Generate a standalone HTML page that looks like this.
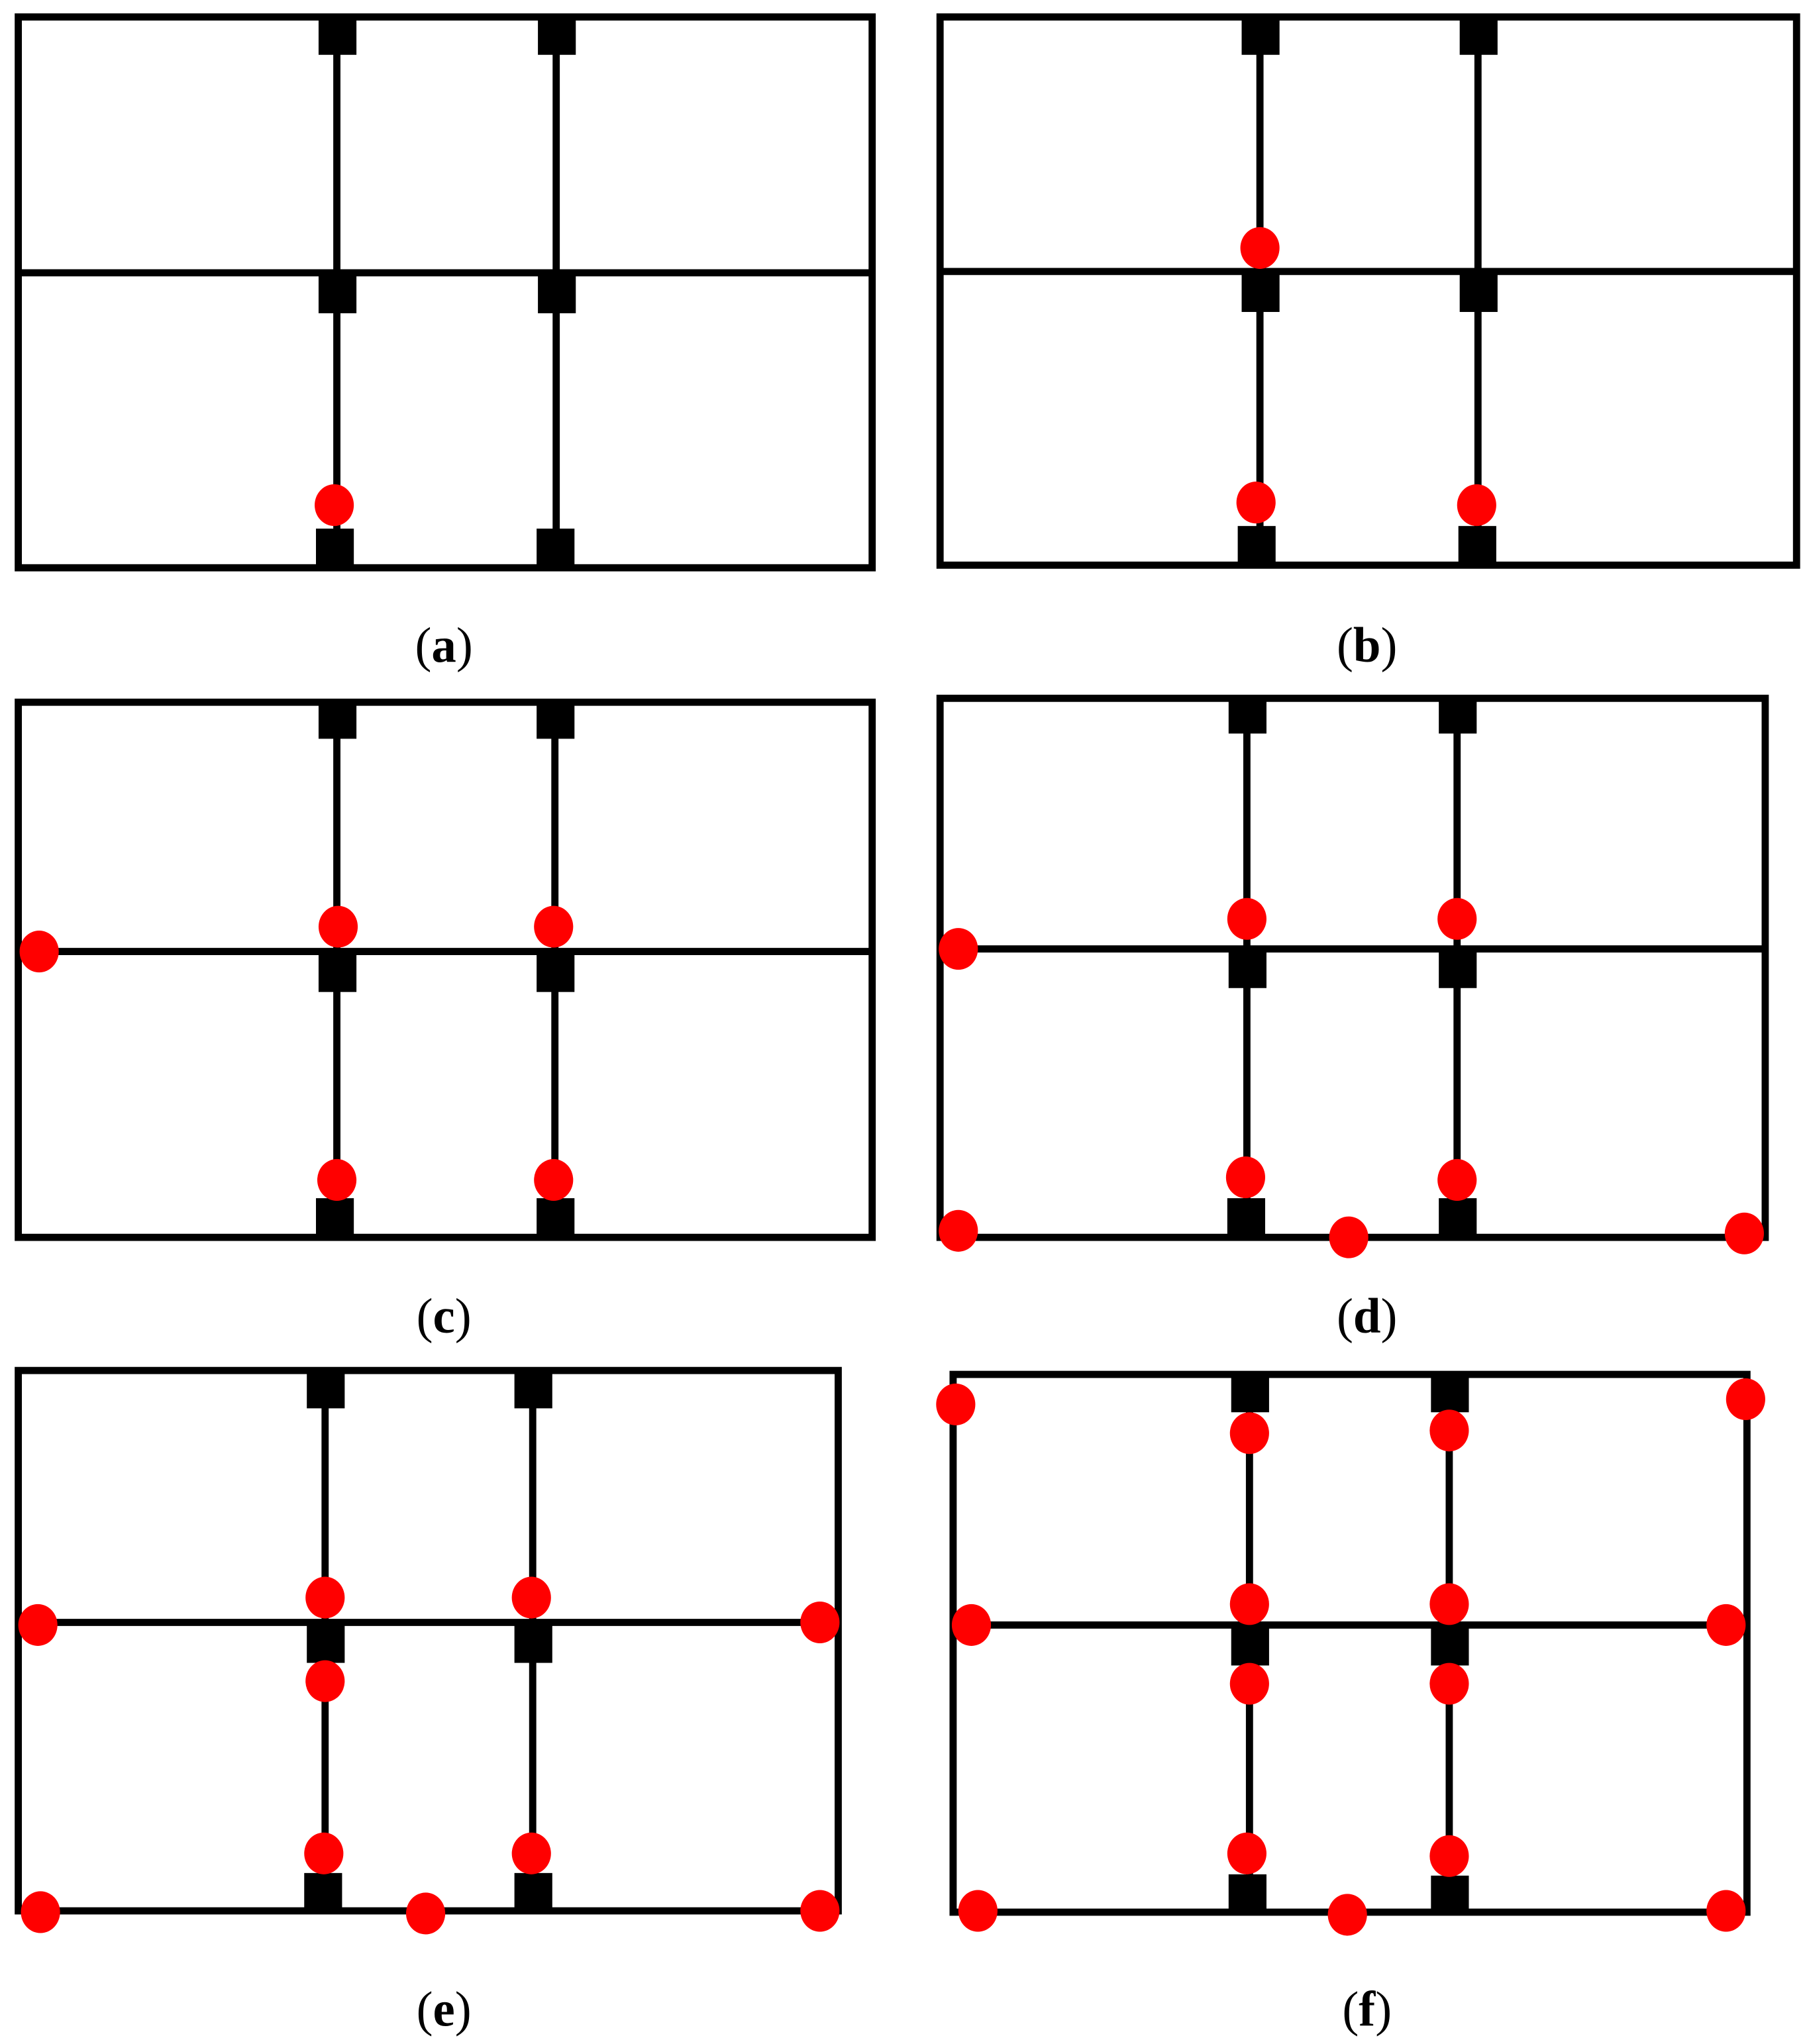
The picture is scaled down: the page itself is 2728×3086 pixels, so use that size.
<!DOCTYPE html>
<html><head><meta charset="utf-8"><style>html,body{margin:0;padding:0;background:#fff}svg{display:block}</style></head>
<body>
<svg width="2728" height="3086" viewBox="0 0 1384 1566" preserveAspectRatio="none" xmlns="http://www.w3.org/2000/svg">
<rect width="1384" height="1566" fill="#fff"/>
<g stroke="#000" stroke-width="5.5" fill="none">
<!-- a -->
<rect x="14" y="13" width="654" height="422"/>
<line x1="14" y1="209" x2="668" y2="209"/>
<line x1="258" y1="13" x2="258" y2="435"/><line x1="426" y1="13" x2="426" y2="435"/>
<!-- b -->
<rect x="720" y="13" width="656" height="420"/>
<line x1="720" y1="208" x2="1376" y2="208"/>
<line x1="965" y1="13" x2="965" y2="433"/><line x1="1132" y1="13" x2="1132" y2="433"/>
<!-- c -->
<rect x="14" y="538" width="654" height="410"/>
<line x1="14" y1="729" x2="668" y2="729"/>
<line x1="258" y1="538" x2="258" y2="948"/><line x1="425" y1="538" x2="425" y2="948"/>
<!-- d -->
<rect x="720" y="535" width="632" height="413"/>
<line x1="720" y1="727" x2="1352" y2="727"/>
<line x1="955" y1="535" x2="955" y2="948"/><line x1="1116" y1="535" x2="1116" y2="948"/>
<!-- e -->
<rect x="14" y="1050" width="628" height="414"/>
<line x1="14" y1="1243" x2="642" y2="1243"/>
<line x1="249" y1="1050" x2="249" y2="1464"/><line x1="408" y1="1050" x2="408" y2="1464"/>
<!-- f -->
<rect x="730" y="1053" width="608" height="412"/>
<line x1="730" y1="1245" x2="1338" y2="1245"/>
<line x1="957" y1="1053" x2="957" y2="1465"/><line x1="1110" y1="1053" x2="1110" y2="1465"/>
</g>
<g fill="#000">
<!-- squares: x center, top y -->
<rect x="244" y="13" width="29" height="29"/><rect x="412" y="13" width="29" height="29"/>
<rect x="244" y="209" width="29" height="31"/><rect x="412" y="209" width="29" height="31"/>
<rect x="242" y="405" width="29" height="30"/><rect x="411" y="405" width="29" height="30"/>

<rect x="951" y="13" width="29" height="29"/><rect x="1118" y="13" width="29" height="29"/>
<rect x="951" y="208" width="29" height="31"/><rect x="1118" y="208" width="29" height="31"/>
<rect x="948" y="403" width="29" height="30"/><rect x="1117" y="403" width="29" height="30"/>

<rect x="244" y="538" width="29" height="28"/><rect x="411" y="538" width="29" height="28"/>
<rect x="244" y="729" width="29" height="31"/><rect x="411" y="729" width="29" height="31"/>
<rect x="242" y="918" width="29" height="30"/><rect x="411" y="918" width="29" height="30"/>

<rect x="941" y="535" width="29" height="27"/><rect x="1102" y="535" width="29" height="27"/>
<rect x="941" y="727" width="29" height="30"/><rect x="1102" y="727" width="29" height="30"/>
<rect x="940" y="918" width="29" height="30"/><rect x="1102" y="918" width="29" height="30"/>

<rect x="235" y="1050" width="29" height="29"/><rect x="394" y="1050" width="29" height="29"/>
<rect x="235" y="1243" width="29" height="31"/><rect x="394" y="1243" width="29" height="31"/>
<rect x="233" y="1435" width="29" height="29"/><rect x="394" y="1435" width="29" height="29"/>

<rect x="943" y="1053" width="29" height="29"/><rect x="1096" y="1053" width="29" height="29"/>
<rect x="943" y="1245" width="29" height="31"/><rect x="1096" y="1245" width="29" height="31"/>
<rect x="941" y="1436" width="29" height="29"/><rect x="1096" y="1437" width="29" height="29"/>
</g>
<g fill="#ff0000">
<ellipse cx="256" cy="387" rx="15" ry="16"/>

<ellipse cx="965" cy="190" rx="15" ry="16"/><ellipse cx="962" cy="385" rx="15" ry="16"/><ellipse cx="1131" cy="387" rx="15" ry="16"/>

<ellipse cx="30" cy="729" rx="15" ry="16"/><ellipse cx="259" cy="710" rx="15" ry="16"/><ellipse cx="424" cy="710" rx="15" ry="16"/><ellipse cx="258" cy="904" rx="15" ry="16"/><ellipse cx="424" cy="904" rx="15" ry="16"/>

<ellipse cx="734" cy="727" rx="15" ry="16"/><ellipse cx="955" cy="704" rx="15" ry="16"/><ellipse cx="1116" cy="704" rx="15" ry="16"/><ellipse cx="954" cy="902" rx="15" ry="16"/><ellipse cx="1116" cy="904" rx="15" ry="16"/><ellipse cx="734" cy="943" rx="15" ry="16"/><ellipse cx="1033" cy="948" rx="15" ry="16"/><ellipse cx="1336" cy="945" rx="15" ry="16"/>

<ellipse cx="29" cy="1245" rx="15" ry="16"/><ellipse cx="249" cy="1224" rx="15" ry="16"/><ellipse cx="407" cy="1224" rx="15" ry="16"/><ellipse cx="628" cy="1243" rx="15" ry="16"/><ellipse cx="249" cy="1288" rx="15" ry="16"/><ellipse cx="248" cy="1420" rx="15" ry="16"/><ellipse cx="407" cy="1420" rx="15" ry="16"/><ellipse cx="31" cy="1465" rx="15" ry="16"/><ellipse cx="326" cy="1466" rx="15" ry="16"/><ellipse cx="628" cy="1464" rx="15" ry="16"/>

<ellipse cx="732" cy="1076" rx="15" ry="16"/><ellipse cx="957" cy="1098" rx="15" ry="16"/><ellipse cx="1110" cy="1096" rx="15" ry="16"/><ellipse cx="1337" cy="1072" rx="15" ry="16"/><ellipse cx="744" cy="1245" rx="15" ry="16"/><ellipse cx="957" cy="1229" rx="15" ry="16"/><ellipse cx="1110" cy="1229" rx="15" ry="16"/><ellipse cx="1322" cy="1245" rx="15" ry="16"/><ellipse cx="957" cy="1290" rx="15" ry="16"/><ellipse cx="1110" cy="1290" rx="15" ry="16"/><ellipse cx="955" cy="1420" rx="15" ry="16"/><ellipse cx="1110" cy="1422" rx="15" ry="16"/><ellipse cx="749" cy="1464" rx="15" ry="16"/><ellipse cx="1032" cy="1467" rx="15" ry="16"/><ellipse cx="1322" cy="1464" rx="15" ry="16"/>
</g>
<g font-family="'Liberation Serif', serif" font-size="38" text-anchor="middle" fill="#000">
<text x="340" y="507">(<tspan font-weight="bold">a</tspan>)</text>
<text x="1047" y="507">(<tspan font-weight="bold">b</tspan>)</text>
<text x="340" y="1021">(<tspan font-weight="bold">c</tspan>)</text>
<text x="1047" y="1021">(<tspan font-weight="bold">d</tspan>)</text>
<text x="340" y="1552">(<tspan font-weight="bold">e</tspan>)</text>
<text x="1047" y="1552">(<tspan font-weight="bold">f</tspan>)</text>
</g>
</svg>
</body></html>
